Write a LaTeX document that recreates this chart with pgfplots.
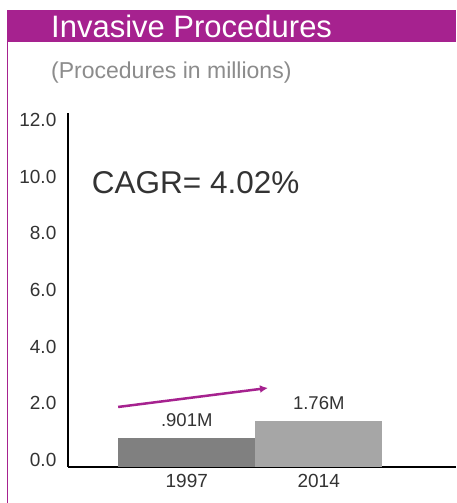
\documentclass[border=0pt]{standalone}
\usepackage{fontspec}
\setmainfont{Liberation Sans}
\usepackage{pgfplots}
\pgfplotsset{compat=1.18}
\usetikzlibrary{arrows.meta}
\definecolor{mag}{HTML}{A6228F}
\definecolor{txt}{HTML}{333333}
\definecolor{sub}{HTML}{8C8C8C}
\definecolor{bardark}{HTML}{808080}
\definecolor{barlight}{HTML}{A6A6A6}
\begin{document}
\begin{tikzpicture}
\path[use as bounding box] (0pt,0pt) rectangle (456pt,503pt);
\fill[white] (0pt,0pt) rectangle (456pt,503pt);
\fill[mag] (7pt,461pt) rectangle (456pt,493pt);
\draw[mag, line width=1pt] (7.5pt,0pt) -- (7.5pt,461pt);
\node[anchor=west, white, inner sep=0pt, font=\fontsize{31}{31}\selectfont] at (51pt,477pt) {Invasive Procedures};
\node[anchor=west, sub, inner sep=0pt, font=\fontsize{23}{23}\selectfont] at (51pt,430pt) {(Procedures in millions)};
\begin{axis}[
  at={(68pt,36pt)}, anchor=south west,
  width=388pt, height=354pt, scale only axis,
  xmin=-0.9, xmax=2.04, ymin=-0.25, ymax=12.25,
  axis x line=bottom, axis y line=left,
  axis line style={-, line width=1.5pt, black},
  tick style={draw=none},
  ytick={0,2,4,6,8,10,12},
  /pgf/number format/assume math mode=true,
  yticklabel style={/pgf/number format/fixed, /pgf/number format/fixed zerofill, /pgf/number format/precision=1, xshift=-6pt},
  xtick={0,1}, xticklabels={1997,2014},
  ticklabel style={font=\fontsize{19}{19}\selectfont, text=txt},
  xticklabel style={yshift=-2pt},
  clip=false,
]
\addplot[fill=bardark, draw=none] coordinates {(-0.521,-0.25) (-0.521,0.78) (0.517,0.78) (0.517,-0.25)} -- cycle;
\addplot[fill=barlight, draw=none] coordinates {(0.517,-0.25) (0.517,1.38) (1.479,1.38) (1.479,-0.25)} -- cycle;
\node[text=txt, font=\fontsize{18.5}{18.5}\selectfont] at (axis cs:0,1.41) {.901M};
\node[text=txt, font=\fontsize{18.5}{18.5}\selectfont] at (axis cs:1,2.01) {1.76M};
\node[anchor=west, inner sep=0pt, text=txt, font=\fontsize{31.5}{31.5}\selectfont] at (axis cs:-0.72,9.79) {CAGR= 4.02\%};
\draw[mag, line width=2.5pt, -{Latex[length=8pt,width=8pt]}] (axis cs:-0.52,1.87) -- (axis cs:0.615,2.54);
\end{axis}
\end{tikzpicture}
\end{document}
